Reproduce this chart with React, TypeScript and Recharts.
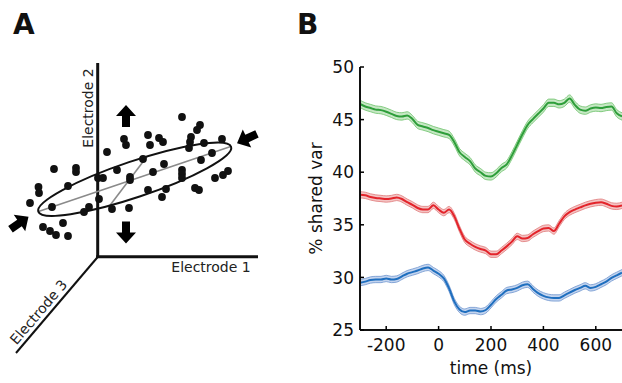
import React from 'react'
import {
  ScatterChart,
  Scatter,
  ComposedChart,
  Area,
  Line,
  XAxis,
  YAxis,
  ReferenceLine,
} from 'recharts'

// ---- panel B: shared variance over time ----
const TIME = [
  -300, -280, -260, -240, -220, -200, -180, -160, -140, -120, -100, -80, -60, -40, -20, 0, 20, 40, 60,
  80, 100, 120, 140, 160, 180, 200, 220, 240, 260, 280, 300, 320, 340, 360, 380, 400, 420, 440, 460,
  480, 500, 520, 540, 560, 580, 600, 620, 640, 660, 680, 700,
]
const GREEN = [
  46.5, 46.25, 46.1, 45.95, 45.9, 45.75, 45.55, 45.35, 45.3, 45.4, 45.05, 44.5, 44.35, 44.2, 44.0,
  43.85, 43.7, 43.55, 42.85, 41.9, 41.45, 41.05, 40.35, 40.0, 39.65, 39.6, 39.9, 40.4, 40.75, 41.6,
  42.6, 43.6, 44.5, 45.05, 45.55, 46.05, 46.6, 46.6, 46.45, 46.6, 47.0, 46.4, 45.95, 45.85, 46.05,
  46.15, 46.1, 46.2, 46.25, 45.6, 45.3,
]
const RED = [
  37.85, 37.8, 37.65, 37.55, 37.5, 37.45, 37.5, 37.6, 37.45, 37.15, 36.9, 36.6, 36.45, 36.45, 36.85,
  36.45, 36.15, 36.45, 35.8, 34.6, 33.6, 33.2, 32.9, 32.7, 32.55, 32.2, 32.2, 32.55, 32.95, 33.4,
  33.9, 33.7, 33.75, 34.1, 34.4, 34.65, 34.7, 34.4, 35.1, 35.8, 36.2, 36.45, 36.65, 36.85, 37.0, 37.1,
  37.15, 37.0, 36.8, 36.75, 36.85,
]
const BLUE = [
  29.5, 29.6, 29.75, 29.8, 29.8, 29.9, 29.8, 29.85, 30.1, 30.35, 30.5, 30.65, 30.85, 30.95, 30.65,
  30.35, 29.9, 28.95, 27.7, 26.95, 26.7, 26.85, 26.85, 26.75, 26.9, 27.4, 27.95, 28.35, 28.75, 28.85,
  29.0, 29.25, 29.35, 28.9, 28.5, 28.25, 28.1, 28.05, 28.05, 28.3, 28.55, 28.8, 29.0, 29.2, 29.0,
  29.1, 29.35, 29.6, 29.95, 30.2, 30.45,
]
// half-width of the shaded error band for each curve
const GREEN_SEM = 0.35
const RED_SEM = 0.3
const BLUE_SEM = 0.3

const X_TICKS = [-200, 0, 200, 400, 600]
const Y_TICKS = [25, 30, 35, 40, 45, 50]

// ---- panel A: schematic, drawing units ----
const DOTS = [
  { x: 54, y: 169 }, { x: 76, y: 168 }, { x: 76, y: 172 }, { x: 38.5, y: 187 }, { x: 39, y: 193 },
  { x: 68, y: 186 }, { x: 98, y: 178 }, { x: 103, y: 178 }, { x: 30, y: 203 }, { x: 52, y: 207 },
  { x: 89, y: 207 }, { x: 84, y: 212 }, { x: 99, y: 199 }, { x: 63, y: 223 }, { x: 43, y: 227 },
  { x: 50, y: 231 }, { x: 56, y: 235 }, { x: 68, y: 236 },
  { x: 124, y: 139 }, { x: 126, y: 145 }, { x: 107, y: 152 }, { x: 148, y: 135 }, { x: 159, y: 138 },
  { x: 163, y: 142 }, { x: 150, y: 145 }, { x: 182, y: 117 }, { x: 143, y: 159 }, { x: 164, y: 164 },
  { x: 153, y: 172 }, { x: 117, y: 170 }, { x: 130, y: 177 }, { x: 130, y: 180 }, { x: 148, y: 190 },
  { x: 166, y: 189 }, { x: 162, y: 197 }, { x: 112, y: 209 }, { x: 129, y: 208 },
  { x: 200, y: 125 }, { x: 197, y: 130 }, { x: 191, y: 137 }, { x: 190, y: 142 }, { x: 189, y: 148 },
  { x: 204, y: 143 }, { x: 222, y: 139 }, { x: 212, y: 153 }, { x: 201, y: 160 }, { x: 182, y: 170 },
  { x: 182, y: 174 }, { x: 182, y: 178 }, { x: 215, y: 178 }, { x: 223, y: 175 }, { x: 228, y: 171 },
  { x: 195, y: 188 }, { x: 199, y: 190 },
]
const ELLIPSE = [{ x: 134.7, y: 179.2, a: 101.7, b: 18, angle: -18.6 }]
const ELECTRODE_AXES = [
  { from: { x: 97.7, y: 63 }, to: { x: 97.7, y: 258 }, width: 3 },
  { from: { x: 96.2, y: 256.7 }, to: { x: 258, y: 256.7 }, width: 3 },
  { from: { x: 97.7, y: 257 }, to: { x: 16, y: 353 }, width: 2 },
]
const GRAY_LINES = [
  { from: { x: 38.5, y: 211.5 }, to: { x: 230, y: 146.7 } },
  { from: { x: 147, y: 156.5 }, to: { x: 109.5, y: 206 } },
]
const ARROWS = [
  { x: 126, y: 116, angle: -90 },
  { x: 126, y: 232.5, angle: 90 },
  { x: 19.5, y: 223, angle: -35 },
  { x: 247, y: 138.5, angle: 155 },
]
const AXIS_NAMES = [
  { x: 92.5, y: 108, text: 'Electrode 2', angle: -90 },
  { x: 211, y: 271.5, text: 'Electrode 1', angle: 0 },
  { x: 42.3, y: 315.3, text: 'Electrode 3', angle: -49.6 },
]

const FONT = 'DejaVu Sans, sans-serif'

const bandData = TIME.map((t, i) => ({
  t,
  green: GREEN[i],
  red: RED[i],
  blue: BLUE[i],
  greenBand: [GREEN[i] - GREEN_SEM, GREEN[i] + GREEN_SEM],
  redBand: [RED[i] - RED_SEM, RED[i] + RED_SEM],
  blueBand: [BLUE[i] - BLUE_SEM, BLUE[i] + BLUE_SEM],
}))

const XTick = (props: any) => {
  const { x, y, payload } = props
  return (
    <g>
      <line x1={x} x2={x} y1={y - 8} y2={y - 12} stroke="#000" strokeWidth={1.5} />
      <text x={x} y={y + 13} textAnchor="middle" fontSize={17} fontFamily={FONT} fill="#111">
        {payload.value}
      </text>
    </g>
  )
}

const YTick = (props: any) => {
  const { x, y, payload } = props
  return (
    <g>
      <line x1={x + 6} x2={x + 10} y1={y} y2={y} stroke="#000" strokeWidth={1.5} />
      <text x={x} y={y} dy="0.36em" textAnchor="end" fontSize={17} fontFamily={FONT} fill="#111">
        {payload.value}
      </text>
    </g>
  )
}

const DotShape = (p: any) => <circle cx={p.cx} cy={p.cy} r={3.9} fill="#111" />

const EllipseShape = (p: any) => {
  const e = p.payload
  return (
    <ellipse
      cx={p.cx}
      cy={p.cy}
      rx={e.a}
      ry={e.b}
      transform={`rotate(${e.angle} ${p.cx} ${p.cy})`}
      fill="none"
      stroke="#111"
      strokeWidth={2}
    />
  )
}

const ArrowShape = (p: any) => (
  <polygon
    points="11,0 0,-10 0,-4 -11,-4 -11,4 0,4 0,10"
    transform={`translate(${p.cx} ${p.cy}) rotate(${p.payload.angle})`}
    fill="#000"
  />
)

const NameShape = (p: any) => {
  const d = p.payload
  return (
    <text
      x={p.cx}
      y={p.cy}
      transform={`rotate(${d.angle} ${p.cx} ${p.cy})`}
      textAnchor="middle"
      fontSize={14}
      fontFamily={FONT}
      fill="#222"
    >
      {d.text}
    </text>
  )
}

const Schematic = () => (
  <ScatterChart width={300} height={383} margin={{ top: 0, right: 0, bottom: 0, left: 0 }}>
    <XAxis type="number" dataKey="x" domain={[0, 300]} hide />
    <YAxis type="number" dataKey="y" domain={[0, 383]} reversed hide />
    {ELECTRODE_AXES.map((s, i) => (
      <ReferenceLine key={`ax-${i}`} segment={[s.from, s.to]} stroke="#111" strokeWidth={s.width} />
    ))}
    {GRAY_LINES.map((s, i) => (
      <ReferenceLine key={`gl-${i}`} segment={[s.from, s.to]} stroke="#8a8a8a" strokeWidth={1.6} />
    ))}
    <Scatter data={ELLIPSE} shape={EllipseShape} isAnimationActive={false} />
    <Scatter data={DOTS} shape={DotShape} isAnimationActive={false} />
    <Scatter data={ARROWS} shape={ArrowShape} isAnimationActive={false} />
    <Scatter data={AXIS_NAMES} shape={NameShape} isAnimationActive={false} />
  </ScatterChart>
)

const SharedVar = () => (
  <ComposedChart width={322} height={383} data={bandData} margin={{ top: 67, right: 0, bottom: 23, left: 0 }}>
    <XAxis
      dataKey="t"
      type="number"
      domain={[-300, 700]}
      ticks={X_TICKS}
      interval={0}
      height={30}
      axisLine={{ stroke: '#111', strokeWidth: 2 }}
      tickLine={false}
      tickSize={0}
      tickMargin={8}
      tick={XTick}
    />
    <YAxis
      type="number"
      domain={[25, 50]}
      ticks={Y_TICKS}
      width={60}
      axisLine={{ stroke: '#111', strokeWidth: 2 }}
      tickLine={false}
      tickSize={0}
      tickMargin={6}
      tick={YTick}
    />
    <Area dataKey="greenBand" type="monotone" fill="#c6e8c4" fillOpacity={1} stroke="#6cc16a" strokeWidth={0.8} isAnimationActive={false} />
    <Area dataKey="redBand" type="monotone" fill="#f4c4c4" fillOpacity={1} stroke="#e07a7a" strokeWidth={0.8} isAnimationActive={false} />
    <Area dataKey="blueBand" type="monotone" fill="#c4d4ee" fillOpacity={1} stroke="#6f95cf" strokeWidth={0.8} isAnimationActive={false} />
    <Line dataKey="green" type="monotone" stroke="#2e9e3a" strokeWidth={2} dot={false} isAnimationActive={false} />
    <Line dataKey="red" type="monotone" stroke="#e3242b" strokeWidth={2} dot={false} isAnimationActive={false} />
    <Line dataKey="blue" type="monotone" stroke="#1f6fbf" strokeWidth={2} dot={false} isAnimationActive={false} />
  </ComposedChart>
)

export default function App() {
  return (
    <div style={{ position: 'absolute', left: 0, top: 0, width: 622, height: 383, background: '#fff' }}>
      <div style={{ position: 'absolute', left: 0, top: 0 }}>
        <Schematic />
      </div>
      <div style={{ position: 'absolute', left: 300, top: 0 }}>
        <SharedVar />
      </div>
      <svg width={622} height={383} style={{ position: 'absolute', left: 0, top: 0, pointerEvents: 'none' }}>
        <text x={13} y={34} fontSize={28} fontWeight="bold" fontFamily={FONT} fill="#111">
          A
        </text>
        <text x={297} y={34} fontSize={28} fontWeight="bold" fontFamily={FONT} fill="#111">
          B
        </text>
        <text
          x={322}
          y={198.5}
          transform="rotate(-90 322 198.5)"
          textAnchor="middle"
          fontSize={17}
          fontFamily={FONT}
          fill="#111"
        >
          % shared var
        </text>
        <text x={491} y={374} textAnchor="middle" fontSize={17} fontFamily={FONT} fill="#111">
          time (ms)
        </text>
      </svg>
    </div>
  )
}
